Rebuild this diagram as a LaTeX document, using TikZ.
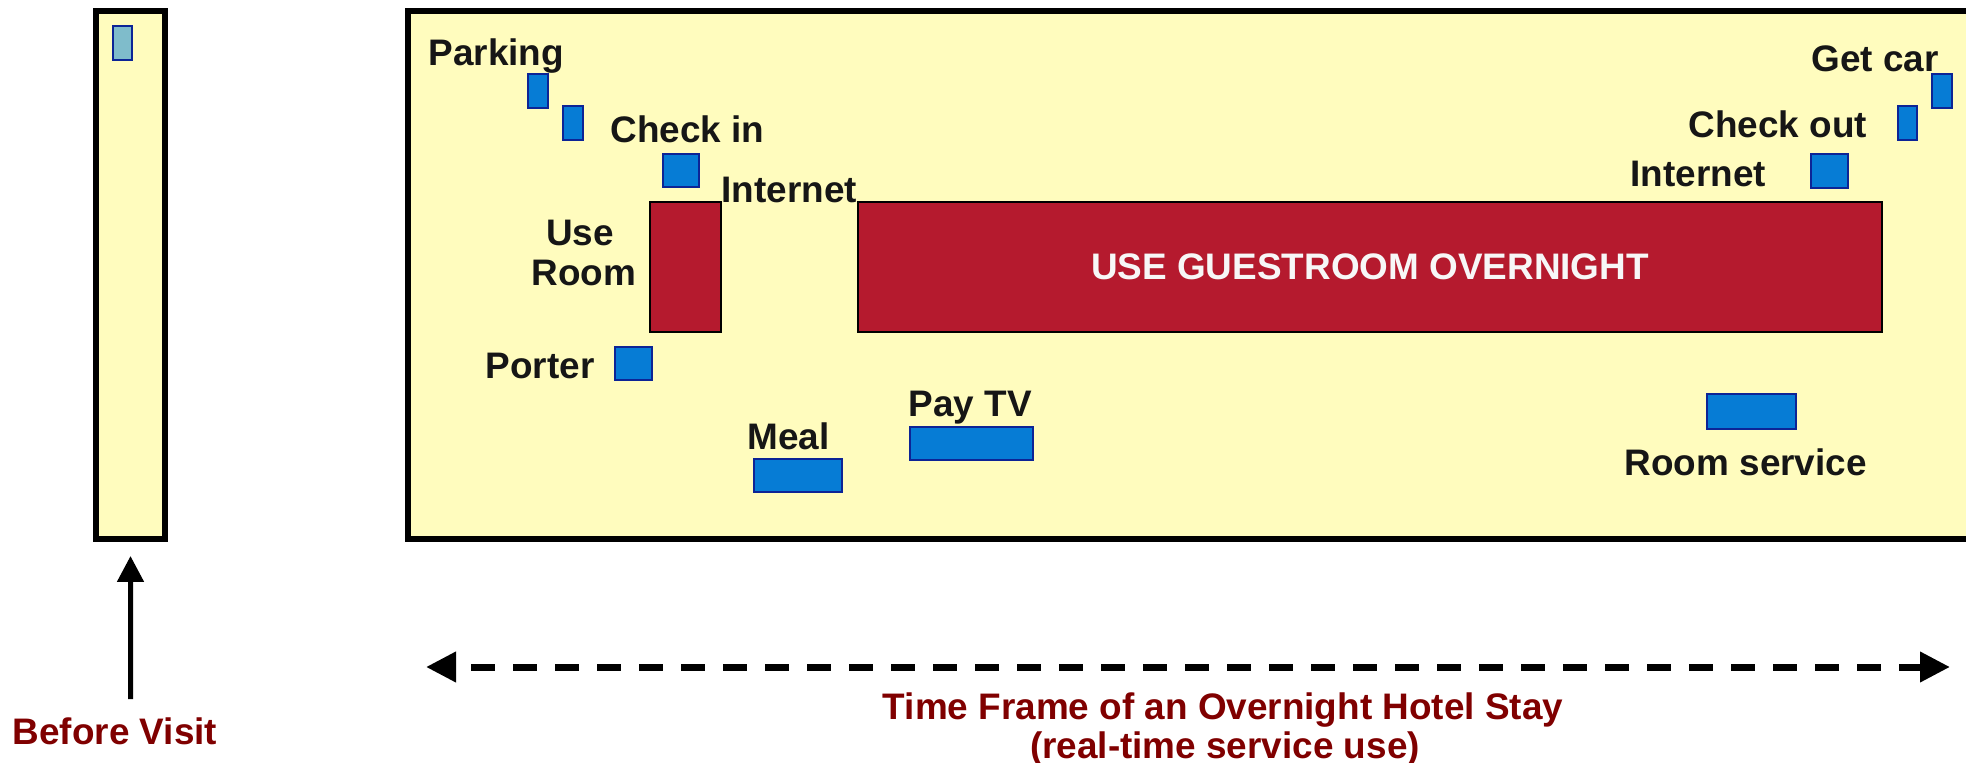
\documentclass[tikz,border=0pt]{standalone}
\usepackage{fontspec}
\setmainfont{Liberation Sans}
\usetikzlibrary{arrows.meta}

\definecolor{stayyellow}{RGB}{255,252,190}
\definecolor{roomred}{RGB}{181,26,46}
\definecolor{svcblue}{RGB}{6,124,213}
\definecolor{svcline}{RGB}{12,36,150}
\definecolor{prevteal}{RGB}{127,188,203}
\definecolor{labelred}{RGB}{128,0,0}
\definecolor{labelink}{RGB}{22,22,22}

\begin{document}
\begin{tikzpicture}[
    font=\bfseries\fontsize{10.5pt}{12pt}\selectfont,
    panel/.style={draw=black, line width=0.065cm, fill=stayyellow, inner sep=0pt, outer sep=0pt, anchor=north west},
    svc/.style={draw=svcline, line width=0.6pt, fill=svcblue, inner sep=0pt, outer sep=0pt, minimum height=0.34cm},
    slim/.style={svc, minimum width=0.2cm},
    roombox/.style={draw=black, line width=0.6pt, fill=roomred, inner sep=0pt, outer sep=0pt, minimum height=1.3cm},
    lbl/.style={text=labelink, inner sep=0pt, anchor=base west},
    caption/.style={text=labelred, inner sep=0pt, anchor=base},
    timeline/.style={line width=0.07cm, dash pattern=on 0.24cm off 0.18cm, dash phase=0.25cm,
        {Triangle[length=0.3cm,width=0.29cm]}-{Triangle[length=0.3cm,width=0.29cm]}},
    uparr/.style={line width=0.05cm, -{Triangle[length=0.26cm,width=0.26cm]}},
]
\clip (0,0) rectangle (19.66,7.62);

% panels
\node[panel, minimum width=0.69cm, minimum height=5.28cm] (visit) at (0.96,7.51) {};
\node[panel, minimum width=15.61cm, minimum height=5.28cm] (stay) at (4.08,7.51) {};

% before visit
\node[svc, fill=prevteal, minimum width=0.19cm] (prev) at (1.225,7.19) {};

% arrival
\node[slim] (park1) at (5.38,6.71) {};
\node[slim] (park2) at (5.73,6.39) {};
\node[svc, minimum width=0.36cm, minimum height=0.33cm] (checkin) at (6.81,5.915) {};
\node[roombox, minimum width=0.71cm] (useroom) at (6.855,4.95) {};
\node[svc, minimum width=0.37cm, minimum height=0.33cm] (porter) at (6.335,3.985) {};
\node[svc, minimum width=0.88cm, minimum height=0.33cm] (meal) at (7.98,2.865) {};
\node[svc, minimum width=1.23cm, minimum height=0.33cm] (paytv) at (9.715,3.185) {};

% overnight
\node[roombox, minimum width=10.24cm, text=white!94!gray] (guestroom) at (13.70,4.95) {USE GUESTROOM OVERNIGHT};

% departure
\node[svc, minimum width=0.89cm, minimum height=0.35cm] (roomsvc) at (17.515,3.505) {};
\node[svc, minimum width=0.37cm] (inetout) at (18.295,5.91) {};
\node[slim, minimum width=0.19cm] (checkout) at (19.075,6.39) {};
\node[slim] (getcar) at (19.42,6.71) {};

% labels
\node[lbl] (parkingl) at (4.28,6.96) {Parking};
\node[lbl] (checkinl) at (6.10,6.19) {Check in};
\node[lbl] (inetinl) at (7.21,5.59) {Internet};
\node[lbl, anchor=base] (usel) at (5.80,5.16) {Use};
\node[lbl, anchor=base] (rooml) at (5.84,4.76) {Room};
\node[lbl] (porterl) at (4.85,3.83) {Porter};
\node[lbl] (meall) at (7.47,3.12) {Meal};
\node[lbl] (paytvl) at (9.08,3.45) {Pay TV};
\node[lbl] (getcarl) at (18.11,6.90) {Get car};
\node[lbl] (checkoutl) at (16.88,6.24) {Check out};
\node[lbl] (inetoutl) at (16.30,5.75) {Internet};
\node[lbl] (roomsvcl) at (16.24,2.86) {Room service};

% captions
\node[caption] (beforel) at (1.15,0.18) {Before Visit};
\node[caption] (timel) at (12.23,0.43) {Time Frame of an Overnight Hotel Stay};
\node[caption] (timel2) at (12.25,0.04) {(real-time service use)};

% arrows
\coordinate (bvfoot) at (1.305,0.63);
\draw[uparr, shorten >=0.17cm] (bvfoot) -- (visit.south);
\coordinate (stayin) at (4.26,0.95);
\coordinate (stayout) at (19.50,0.95);
\draw[timeline] (stayin) -- (stayout);

\end{tikzpicture}
\end{document}
